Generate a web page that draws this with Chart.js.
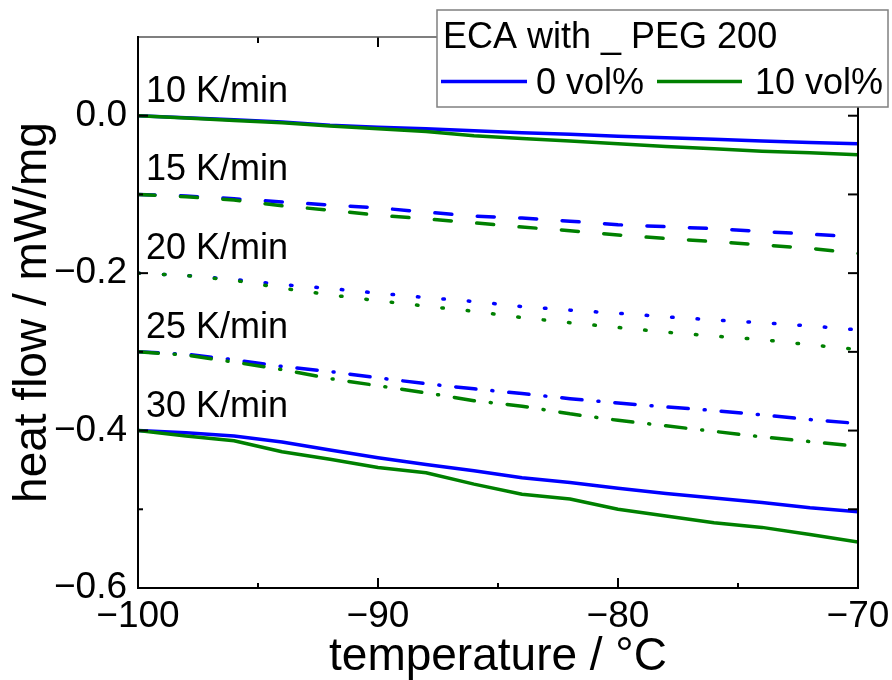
<!DOCTYPE html>
<html>
<head>
<meta charset="utf-8">
<script src="https://cdn.jsdelivr.net/npm/chart.js@4/dist/chart.umd.min.js"></script>
<style>
  html, body { margin: 0; padding: 0; background: #fff; }
  #wrap { width: 892px; height: 680px; }
</style>
</head>
<body>
<div id="wrap"><canvas id="chart" width="892" height="680"></canvas></div>
<script>
// temperature in °C, heat flow in mW/mg
const temps = [-100, -98, -96, -94, -92, -90, -88, -86, -84, -82, -80, -78, -76, -74, -72, -70];

const rates = ['10 K/min', '15 K/min', '20 K/min', '25 K/min', '30 K/min'];

// ECA with 0 vol% PEG 200
const blue10 = [0.000, -0.0025, -0.005, -0.008, -0.012, -0.0145, -0.0165, -0.019, -0.0215, -0.0235, -0.026, -0.028, -0.030, -0.032, -0.034, -0.0355];
const blue15 = [-0.100, -0.102, -0.1055, -0.1095, -0.1135, -0.117, -0.1225, -0.1275, -0.130, -0.134, -0.1385, -0.141, -0.1435, -0.147, -0.1505, -0.154];
const blue20 = [-0.200, -0.203, -0.208, -0.2145, -0.2195, -0.2255, -0.231, -0.236, -0.2425, -0.247, -0.251, -0.2555, -0.2595, -0.263, -0.267, -0.272];
const blue25 = [-0.300, -0.303, -0.310, -0.3185, -0.325, -0.333, -0.3405, -0.347, -0.353, -0.3595, -0.365, -0.370, -0.3745, -0.380, -0.386, -0.391];
const blue30 = [-0.400, -0.4027, -0.407, -0.4145, -0.4247, -0.4344, -0.443, -0.451, -0.460, -0.466, -0.4733, -0.480, -0.4856, -0.4915, -0.498, -0.503];

// ECA with 10 vol% PEG 200
const green10 = [0.000, -0.003, -0.006, -0.009, -0.013, -0.0165, -0.020, -0.0255, -0.029, -0.032, -0.0357, -0.039, -0.042, -0.045, -0.047, -0.0495];
const green15 = [-0.100, -0.103, -0.107, -0.1145, -0.120, -0.1265, -0.131, -0.136, -0.1415, -0.146, -0.1515, -0.156, -0.160, -0.164, -0.1685, -0.175];
const green20 = [-0.200, -0.203, -0.209, -0.219, -0.2276, -0.235, -0.242, -0.2485, -0.2565, -0.263, -0.269, -0.275, -0.280, -0.2845, -0.291, -0.297];
const green25 = [-0.300, -0.304, -0.313, -0.3225, -0.334, -0.343, -0.352, -0.362, -0.369, -0.3787, -0.387, -0.394, -0.401, -0.408, -0.414, -0.420];
const green30 = [-0.400, -0.407, -0.413, -0.427, -0.4365, -0.447, -0.4535, -0.468, -0.481, -0.487, -0.500, -0.5085, -0.517, -0.523, -0.532, -0.5415];

const xTicks = [-100, -90, -80, -70];
const xMinor = [-95, -85, -75];
const yTicks = [-0.6, -0.4, -0.2, 0.0];
const yMinor = [-0.5, -0.3, -0.1];

const legendTitle = 'ECA with _ PEG 200';
const legendLabels = ['0 vol%', '10 vol%'];

const BLUE = '#0000ff';
const GREEN = '#008000';
const FONT = '"Liberation Sans", Arial, sans-serif';

// one dash style per heating rate
const dashes = [[], [17, 25.5], [1.5, 24], [20.3, 16, 1, 16], []];

const blueSeries = [blue10, blue15, blue20, blue25, blue30];
const greenSeries = [green10, green15, green20, green25, green30];

const toPoints = arr => arr.map((v, i) => ({ x: temps[i], y: v }));
const minus = s => String(s).replace('-', '\u2212');

const datasets = [];
rates.forEach((rate, i) => {
    datasets.push({
        label: legendLabels[1] + ' ' + rate,
        data: toPoints(greenSeries[i]),
        borderColor: GREEN,
        borderDash: dashes[i]
    });
    datasets.push({
        label: legendLabels[0] + ' ' + rate,
        data: toPoints(blueSeries[i]),
        borderColor: BLUE,
        borderDash: dashes[i]
    });
});
datasets.forEach(d => {
    d.borderWidth = 3.5;
    d.pointRadius = 0;
    d.fill = false;
    d.tension = 0;
    d.borderCapStyle = 'round';
    d.borderJoinStyle = 'round';
});

const line = (ctx, x1, y1, x2, y2) => {
    ctx.beginPath();
    ctx.moveTo(x1, y1);
    ctx.lineTo(x2, y2);
    ctx.stroke();
};

// box with inward ticks, rate labels and the legend
const decorations = {
    id: 'decorations',
    afterDatasetsDraw(chart) {
        const { ctx, chartArea: a, scales: { x, y } } = chart;
        ctx.save();
        ctx.strokeStyle = '#000';
        ctx.lineWidth = 2;
        ctx.lineCap = 'butt';

        xTicks.forEach(v => {
            const px = x.getPixelForValue(v);
            line(ctx, px, a.bottom, px, a.bottom - 10);
            line(ctx, px, a.top, px, a.top + 10);
        });
        xMinor.forEach(v => {
            const px = x.getPixelForValue(v);
            line(ctx, px, a.bottom, px, a.bottom - 5);
            line(ctx, px, a.top, px, a.top + 6);
        });
        yTicks.forEach(v => {
            const py = y.getPixelForValue(v);
            line(ctx, a.left, py, a.left + 10, py);
            line(ctx, a.right, py, a.right - 10, py);
        });
        yMinor.forEach(v => {
            const py = y.getPixelForValue(v);
            line(ctx, a.left, py, a.left + 5, py);
            line(ctx, a.right, py, a.right - 10, py);
        });

        // frame
        ctx.strokeStyle = '#555';
        ctx.lineWidth = 1.5;
        line(ctx, a.left, a.top, a.right, a.top);
        ctx.strokeStyle = '#000';
        ctx.lineWidth = 2;
        line(ctx, a.left, a.top - 1, a.left, a.bottom + 1);
        line(ctx, a.left - 1, a.bottom, a.right + 1, a.bottom);
        line(ctx, a.right, a.top - 1, a.right, a.bottom + 1);

        // heating rate labels just above each curve start
        ctx.fillStyle = '#000';
        ctx.font = '36px ' + FONT;
        ctx.textAlign = 'left';
        ctx.textBaseline = 'alphabetic';
        rates.forEach((r, i) => {
            ctx.fillText(r, a.left + 8, y.getPixelForValue(blueSeries[i][0]) - 14);
        });
        ctx.restore();
    },
    afterDraw(chart) {
        const { ctx } = chart;
        ctx.save();
        ctx.fillStyle = '#fff';
        ctx.fillRect(437, 10, 451, 97);
        ctx.strokeStyle = '#808080';
        ctx.lineWidth = 1.5;
        ctx.strokeRect(437, 10, 451, 97);

        ctx.fillStyle = '#000';
        ctx.font = '36px ' + FONT;
        ctx.textAlign = 'left';
        ctx.textBaseline = 'alphabetic';
        ctx.fillText(legendTitle, 443, 48);

        ctx.lineWidth = 3.5;
        ctx.strokeStyle = BLUE;
        line(ctx, 441, 81.5, 527, 81.5);
        ctx.strokeStyle = GREEN;
        line(ctx, 657, 81.5, 742, 81.5);
        ctx.fillText(legendLabels[0], 536, 94);
        ctx.fillText(legendLabels[1], 755, 94);
        ctx.restore();
    }
};

Chart.defaults.font.family = FONT;
Chart.defaults.color = '#000';

new Chart(document.getElementById('chart').getContext('2d'), {
    type: 'line',
    data: { datasets },
    options: {
        responsive: false,
        animation: false,
        layout: { padding: { top: 37, right: 34, left: 0, bottom: 0 } },
        plugins: {
            legend: { display: false },
            tooltip: { enabled: false }
        },
        scales: {
            x: {
                type: 'linear',
                position: 'bottom',
                min: -100,
                max: -70,
                afterBuildTicks: s => { s.ticks = xTicks.map(v => ({ value: v })); },
                afterFit: s => { s.height = 92; s.paddingLeft = 0; s.paddingRight = 0; },
                grid: { display: false, drawTicks: false },
                border: { display: false },
                ticks: {
                    font: { size: 37 },
                    padding: 7,
                    maxRotation: 0,
                    callback: v => minus(v)
                },
                title: {
                    display: true,
                    text: 'temperature / °C',
                    font: { size: 46, lineHeight: 1 },
                    padding: { top: 0, bottom: 0 }
                }
            },
            y: {
                type: 'linear',
                min: -0.6,
                max: 0.1,
                afterBuildTicks: s => { s.ticks = yTicks.map(v => ({ value: v })); },
                afterFit: s => { s.width = 138; s.paddingTop = 0; s.paddingBottom = 0; },
                grid: { display: false, drawTicks: false },
                border: { display: false },
                ticks: {
                    font: { size: 37 },
                    padding: 11,
                    callback: v => minus(v.toFixed(1))
                },
                title: {
                    display: true,
                    text: 'heat flow / mW/mg',
                    font: { size: 46, lineHeight: 1 },
                    padding: { top: 10, bottom: 0 }
                }
            }
        }
    },
    plugins: [decorations]
});
</script>
</body>
</html>
